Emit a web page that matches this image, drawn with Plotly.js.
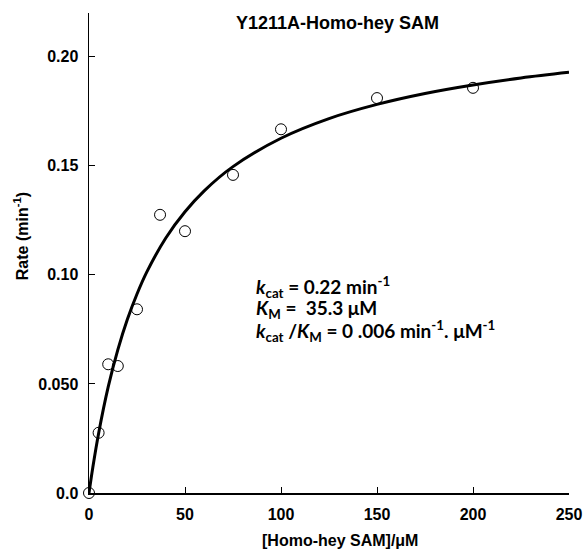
<!DOCTYPE html>
<html>
<head>
<meta charset="utf-8">
<script src="https://cdn.plot.ly/plotly-3.0.1.min.js"></script>
<style>html,body{margin:0;padding:0;background:#fff;}#chart{width:585px;height:554px;}</style>
</head>
<body>
<div id="chart"></div>
<script>
// Measured data points
var substrateConc = [0, 5, 10, 15, 25, 37, 50, 75, 100, 150, 200];
var rateValues = [0, 0.0276, 0.059, 0.0582, 0.0842, 0.1275, 0.120, 0.1458, 0.1667, 0.181, 0.1857];

// Fitted curve
var fitX = [0, 2, 5, 10, 15, 20, 25, 30, 40, 50, 60, 75, 100, 125, 150, 175, 200, 225, 250];
var fitY = [0, 0.0118, 0.0273, 0.0486, 0.0656, 0.0796, 0.0912, 0.1011, 0.1169, 0.1289, 0.1385, 0.1496, 0.1626, 0.1716, 0.1781, 0.1831, 0.1870, 0.1902, 0.1928];

// Tick labels
var xTickVals = [0, 50, 100, 150, 200, 250];
var xTickText = ['0', '50', '100', '150', '200', '250'];
var yTickVals = [0, 0.05, 0.10, 0.15, 0.20];
var yTickText = ['0.0', '0.050', '0.10', '0.15', '0.20'];

// Fit parameter text lines
var fitLines = [
  '<i>k</i><sub>cat</sub> = 0.22 min<sup>-1</sup>',
  '<i>K</i><sub>M</sub> =  35.3 μM',
  '<i>k</i><sub>cat</sub> /<i>K</i><sub>M</sub> = 0 .006 min<sup>-1</sup>. μM<sup>-1</sup>'
];

var arialB = 'Liberation Sans, Arial, sans-serif';
var axisFont = {family: arialB, size: 16, color: '#000', weight: 'bold'};

var traces = [
  {
    x: fitX, y: fitY, mode: 'lines', type: 'scatter',
    line: {color: '#000', width: 3, shape: 'spline', smoothing: 1},
    hoverinfo: 'skip', cliponaxis: false, showlegend: false
  },
  {
    x: substrateConc, y: rateValues, mode: 'markers', type: 'scatter',
    marker: {symbol: 'circle-open', size: 11, color: '#000', line: {color: '#000', width: 1}},
    cliponaxis: false, showlegend: false
  }
];

var annotations = [
  {
    text: 'Y1211A-Homo-hey SAM', xref: 'paper', yref: 'paper',
    x: 0.5185, y: 1, yshift: -10, xanchor: 'center', yanchor: 'middle', showarrow: false,
    font: {family: arialB, size: 18, color: '#000', weight: 'bold'}
  },
  {
    text: '[Homo-hey SAM]/μM', xref: 'paper', yref: 'paper',
    x: 0.523, y: 0, yshift: -47, xanchor: 'center', yanchor: 'middle', showarrow: false,
    font: {family: arialB, size: 16, color: '#000', weight: 'bold'}
  },
  {
    text: 'Rate (min<sup>-1</sup>)', xref: 'paper', yref: 'paper',
    x: 0, xshift: -68, y: 0.535, xanchor: 'center', yanchor: 'middle', textangle: -90, showarrow: false,
    font: {family: arialB, size: 16, color: '#000', weight: 'bold'}
  }
];
var lineY = [0.429, 0.383, 0.337];
fitLines.forEach(function (t, i) {
  annotations.push({
    text: t, xref: 'paper', yref: 'paper', x: 0.344, y: lineY[i],
    xanchor: 'left', yanchor: 'middle', align: 'left', showarrow: false,
    font: {family: 'Lato, Open Sans, sans-serif', size: 19, color: '#000', weight: 'bold'}
  });
});

var layout = {
  width: 585, height: 554,
  paper_bgcolor: '#fff', plot_bgcolor: '#fff',
  margin: {l: 89, r: 16, t: 13, b: 61},
  showlegend: false,
  xaxis: {
    range: [0, 250], tickvals: xTickVals, ticktext: xTickText,
    ticks: 'inside', ticklen: 6, tickwidth: 1, tickcolor: '#000',
    showline: true, linecolor: '#000', linewidth: 1.5,
    showgrid: false, zeroline: false,
    tickfont: axisFont, ticklabelstandoff: 6
  },
  yaxis: {
    range: [0, 0.22], tickvals: yTickVals, ticktext: yTickText,
    ticks: 'inside', ticklen: 6, tickwidth: 1, tickcolor: '#000',
    showline: true, linecolor: '#000', linewidth: 1.5,
    showgrid: false, zeroline: false,
    tickfont: axisFont, ticklabelstandoff: 6
  },
  annotations: annotations
};

Plotly.newPlot('chart', traces, layout, {displayModeBar: false, staticPlot: true});
</script>
</body>
</html>
